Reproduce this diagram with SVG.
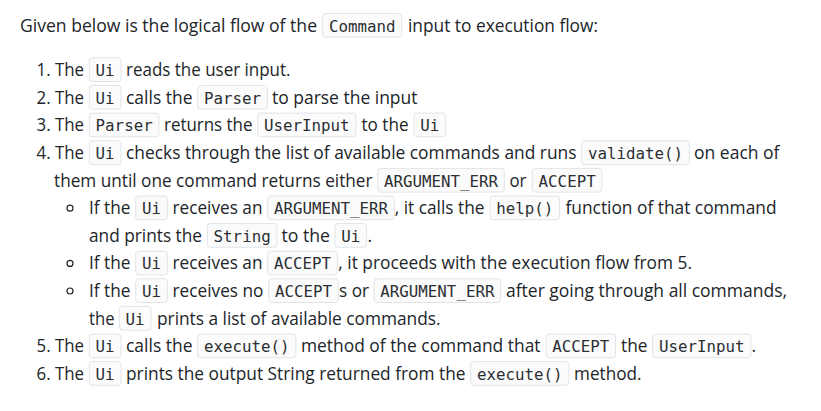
<svg xmlns="http://www.w3.org/2000/svg" width="821" height="411" viewBox="0 0 821 411">
<style>
.t{font-family:"Open Sans","Noto Sans","Liberation Sans",sans-serif;font-size:17.5px;fill:#212529}
.c{font-family:"DejaVu Sans Mono","Liberation Mono",monospace;font-size:15.8px;fill:#2b2f33}
.b{fill:#fbfbfb;stroke:#e1e3e6;stroke-width:1}
.d{fill:none;stroke:#212529;stroke-width:1.2}
</style>
<rect width="821" height="411" fill="#ffffff"/>

<g id="intro">
<text class="t" x="20" y="31.7" textLength="297" lengthAdjust="spacingAndGlyphs">Given below is the logical flow of the</text>
<rect class="b" x="322.7" y="13.5" width="79" height="23.7" rx="3"/><text class="c" x="329" y="31.7">Command</text>
<text class="t" x="408" y="31.7" textLength="190" lengthAdjust="spacingAndGlyphs">input to execution flow:</text>
</g>

<g id="step1">
<text class="t" x="36.5" y="76" textLength="47.5" lengthAdjust="spacingAndGlyphs">1. The</text>
<rect class="b" x="89.3" y="57.8" width="31.7" height="23.7" rx="3"/><text class="c" x="95.6" y="76">Ui</text>
<text class="t" x="126" y="76" textLength="164.5" lengthAdjust="spacingAndGlyphs">reads the user input.</text>
</g>

<g id="step2">
<text class="t" x="36.5" y="103.7" textLength="47.5" lengthAdjust="spacingAndGlyphs">2. The</text>
<rect class="b" x="89.3" y="85.5" width="31.7" height="23.7" rx="3"/><text class="c" x="95.6" y="103.7">Ui</text>
<text class="t" x="126" y="103.7" textLength="66.5" lengthAdjust="spacingAndGlyphs">calls the</text>
<rect class="b" x="197.7" y="85.5" width="69.6" height="23.7" rx="3"/><text class="c" x="204" y="103.7">Parser</text>
<text class="t" x="272" y="103.7" textLength="145.5" lengthAdjust="spacingAndGlyphs">to parse the input</text>
</g>

<g id="step3">
<text class="t" x="36.5" y="131.3" textLength="47.5" lengthAdjust="spacingAndGlyphs">3. The</text>
<rect class="b" x="89.3" y="113.1" width="69.6" height="23.7" rx="3"/><text class="c" x="95.6" y="131.3">Parser</text>
<text class="t" x="164" y="131.3" textLength="88.5" lengthAdjust="spacingAndGlyphs">returns the</text>
<rect class="b" x="257.7" y="113.1" width="98.2" height="23.7" rx="3"/><text class="c" x="264" y="131.3">UserInput</text>
<text class="t" x="361.5" y="131.3" textLength="47" lengthAdjust="spacingAndGlyphs">to the</text>
<rect class="b" x="414" y="113.1" width="31.7" height="23.7" rx="3"/><text class="c" x="420.3" y="131.3">Ui</text>
</g>

<g id="step4">
<text class="t" x="36.5" y="159" textLength="47.5" lengthAdjust="spacingAndGlyphs">4. The</text>
<rect class="b" x="89.3" y="140.8" width="31.7" height="23.7" rx="3"/><text class="c" x="95.6" y="159">Ui</text>
<text class="t" x="126" y="159" textLength="450.5" lengthAdjust="spacingAndGlyphs">checks through the list of available commands and runs</text>
<rect class="b" x="581.7" y="140.8" width="107.7" height="23.7" rx="3"/><text class="c" x="588" y="159">validate()</text>
<text class="t" x="694" y="159" textLength="85.5" lengthAdjust="spacingAndGlyphs">on each of</text>

<text class="t" x="54" y="186.6" textLength="318.5" lengthAdjust="spacingAndGlyphs">them until one command returns either</text>
<rect class="b" x="377.7" y="168.4" width="126.6" height="23.7" rx="3"/><text class="c" x="384" y="186.6">ARGUMENT_ERR</text>
<text class="t" x="509.5" y="186.6" textLength="17" lengthAdjust="spacingAndGlyphs">or</text>
<rect class="b" x="532.3" y="168.4" width="69.6" height="23.7" rx="3"/><text class="c" x="538.6" y="186.6">ACCEPT</text>
</g>

<g id="bullet-a">
<circle class="d" cx="70" cy="208.2" r="3"/>
<text class="t" x="89" y="214.2" textLength="41.5" lengthAdjust="spacingAndGlyphs">If the</text>
<rect class="b" x="135.7" y="196" width="31.7" height="23.7" rx="3"/><text class="c" x="142" y="214.2">Ui</text>
<text class="t" x="172.5" y="214.2" textLength="90" lengthAdjust="spacingAndGlyphs">receives an</text>
<rect class="b" x="267.7" y="196" width="126.6" height="23.7" rx="3"/><text class="c" x="274" y="214.2">ARGUMENT_ERR</text>
<text class="t" x="394.8" y="214.2" textLength="89.7" lengthAdjust="spacingAndGlyphs">, it calls the</text>
<rect class="b" x="490" y="196" width="69.6" height="23.7" rx="3"/><text class="c" x="496.3" y="214.2">help()</text>
<text class="t" x="565.5" y="214.2" textLength="211" lengthAdjust="spacingAndGlyphs">function of that command</text>

<text class="t" x="89" y="241.8" textLength="113" lengthAdjust="spacingAndGlyphs">and prints the</text>
<rect class="b" x="207.3" y="223.6" width="69.6" height="23.7" rx="3"/><text class="c" x="213.6" y="241.8">String</text>
<text class="t" x="281.5" y="241.8" textLength="48.5" lengthAdjust="spacingAndGlyphs">to the</text>
<rect class="b" x="335" y="223.6" width="31.7" height="23.7" rx="3"/><text class="c" x="341.3" y="241.8">Ui</text>
<text class="t" x="367.5" y="241.8">.</text>
</g>

<g id="bullet-b">
<circle class="d" cx="70" cy="263.4" r="3"/>
<text class="t" x="89" y="269.4" textLength="41.5" lengthAdjust="spacingAndGlyphs">If the</text>
<rect class="b" x="135.7" y="251.2" width="31.7" height="23.7" rx="3"/><text class="c" x="142" y="269.4">Ui</text>
<text class="t" x="172.5" y="269.4" textLength="90" lengthAdjust="spacingAndGlyphs">receives an</text>
<rect class="b" x="267.7" y="251.2" width="69.6" height="23.7" rx="3"/><text class="c" x="274" y="269.4">ACCEPT</text>
<text class="t" x="338.3" y="269.4" textLength="353.7" lengthAdjust="spacingAndGlyphs">, it proceeds with the execution flow from 5.</text>
</g>

<g id="bullet-c">
<circle class="d" cx="70" cy="291" r="3"/>
<text class="t" x="89" y="297" textLength="41.5" lengthAdjust="spacingAndGlyphs">If the</text>
<rect class="b" x="135.7" y="278.8" width="31.7" height="23.7" rx="3"/><text class="c" x="142" y="297">Ui</text>
<text class="t" x="172.5" y="297" textLength="91" lengthAdjust="spacingAndGlyphs">receives no</text>
<rect class="b" x="268.7" y="278.8" width="69.6" height="23.7" rx="3"/><text class="c" x="275" y="297">ACCEPT</text>
<text class="t" x="339" y="297" textLength="30" lengthAdjust="spacingAndGlyphs">s or</text>
<rect class="b" x="374" y="278.8" width="126.6" height="23.7" rx="3"/><text class="c" x="380.3" y="297">ARGUMENT_ERR</text>
<text class="t" x="506" y="297" textLength="281" lengthAdjust="spacingAndGlyphs">after going through all commands,</text>

<text class="t" x="89" y="324.6" textLength="25.5" lengthAdjust="spacingAndGlyphs">the</text>
<rect class="b" x="119.3" y="306.4" width="31.7" height="23.7" rx="3"/><text class="c" x="125.6" y="324.6">Ui</text>
<text class="t" x="157" y="324.6" textLength="283.5" lengthAdjust="spacingAndGlyphs">prints a list of available commands.</text>
</g>

<g id="step5">
<text class="t" x="36.5" y="352.2" textLength="47.5" lengthAdjust="spacingAndGlyphs">5. The</text>
<rect class="b" x="89.3" y="334" width="31.7" height="23.7" rx="3"/><text class="c" x="95.6" y="352.2">Ui</text>
<text class="t" x="126" y="352.2" textLength="66.5" lengthAdjust="spacingAndGlyphs">calls the</text>
<rect class="b" x="197.7" y="334" width="98.2" height="23.7" rx="3"/><text class="c" x="204" y="352.2">execute()</text>
<text class="t" x="301" y="352.2" textLength="239.5" lengthAdjust="spacingAndGlyphs">method of the command that</text>
<rect class="b" x="546" y="334" width="69.6" height="23.7" rx="3"/><text class="c" x="552.3" y="352.2">ACCEPT</text>
<text class="t" x="621" y="352.2" textLength="26.5" lengthAdjust="spacingAndGlyphs">the</text>
<rect class="b" x="652.7" y="334" width="98.2" height="23.7" rx="3"/><text class="c" x="659" y="352.2">UserInput</text>
<text class="t" x="751.5" y="352.2">.</text>
</g>

<g id="step6">
<text class="t" x="36.5" y="379.8" textLength="47.5" lengthAdjust="spacingAndGlyphs">6. The</text>
<rect class="b" x="89.3" y="361.6" width="31.7" height="23.7" rx="3"/><text class="c" x="95.6" y="379.8">Ui</text>
<text class="t" x="126" y="379.8" textLength="339.5" lengthAdjust="spacingAndGlyphs">prints the output String returned from the</text>
<rect class="b" x="470.7" y="361.6" width="98.2" height="23.7" rx="3"/><text class="c" x="477" y="379.8">execute()</text>
<text class="t" x="574" y="379.8" textLength="67.5" lengthAdjust="spacingAndGlyphs">method.</text>
</g>
</svg>
